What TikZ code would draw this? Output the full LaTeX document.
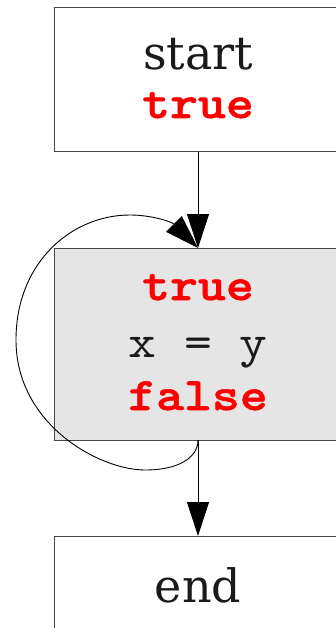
\documentclass[tikz,border=0pt]{standalone}
\usepackage{fontspec}
\usetikzlibrary{arrows.meta}
\newfontfamily\djserif{DejaVu Serif}
\newfontfamily\cmono[FakeStretch=1.14]{lmmono10-regular.otf}
\newfontfamily\cmonob[FakeStretch=1.14,FakeBold=1.2]{lmmonolt10-bold.otf}
\definecolor{boxline}{HTML}{444444}
\definecolor{boxfill}{HTML}{E5E5E5}
\definecolor{txt}{HTML}{1A1A1A}
\begin{document}
\begin{tikzpicture}[x=1pt,y=1pt,
  box/.style={draw=boxline,line width=1pt,minimum width=288pt,inner sep=0pt,outer sep=0pt},
  ser/.style={anchor=base,inner sep=0pt,text=txt,font=\fontsize{46}{55}\selectfont\djserif},
  mon/.style={anchor=base,inner sep=0pt,text=txt,font=\fontsize{46.6}{55}\selectfont\cmono},
  kw/.style={anchor=base,inner sep=0pt,text=red,font=\fontsize{46.6}{55}\selectfont\cmonob},
  edge/.style={draw=black,line width=0.9pt,-{Triangle[length=34pt,width=22pt]}}]
\useasboundingbox (0,0) rectangle (336,-628);
\clip (0,0) rectangle (336,-628);
\node[box,minimum height=144pt] (startbox) at (198,-80) {};
\node[box,fill=boxfill,minimum height=192pt] (midbox) at (198,-344) {};
\node[box,minimum height=144pt] (endbox) at (198,-608) {};
\node[ser] (t1) at (198,-70) {start};
\node[kw] (t2) at (198,-118) {true};
\node[kw] (t3) at (198,-300) {true};
\node[mon] (t4) at (198,-357) {x = y};
\node[kw] (t5) at (198,-410) {false};
\node[ser] (t6) at (198,-602) {end};
\draw[edge] (startbox.south) -- (midbox.north);
\draw[edge] (midbox.south) -- (endbox.north);
\draw[edge] (midbox.south) .. controls (198,-458) and (178,-470) .. (145,-470)
  .. controls (100,-470) and (16,-425) .. (16,-340)
  .. controls (16,-262) and (72,-215) .. (130,-215)
  .. controls (152,-215) and (172,-222) .. (midbox.north);
\end{tikzpicture}
\end{document}
